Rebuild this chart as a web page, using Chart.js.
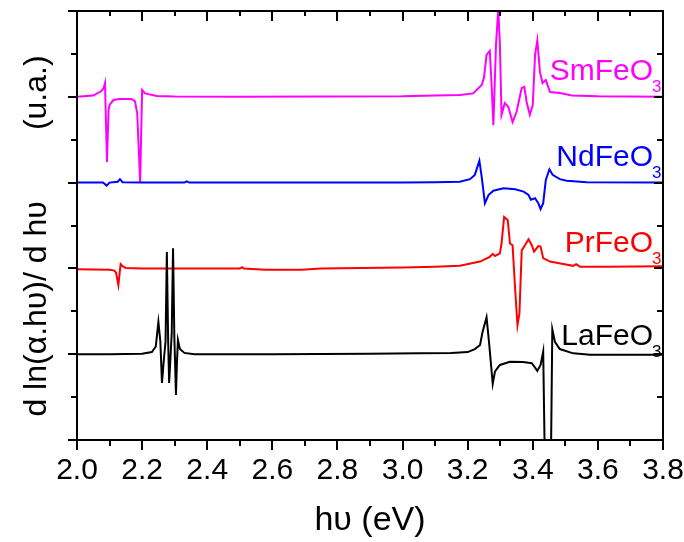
<!DOCTYPE html>
<html>
<head>
<meta charset="utf-8">
<script src="https://cdn.jsdelivr.net/npm/chart.js@4.4.1/dist/chart.umd.min.js"></script>
<style>
html,body{margin:0;padding:0;background:#ffffff;}
#wrap{width:684px;height:542px;position:relative;}
</style>
</head>
<body>
<div id="wrap"><canvas id="c" width="684" height="542"></canvas></div>
<script>
// ---- data (photon energy in eV, derivative in arbitrary units, relative to each curve's baseline) ----
const laX = [2.00, 2.10, 2.20, 2.230, 2.242, 2.250, 2.256, 2.261, 2.266, 2.272, 2.276, 2.280, 2.283, 2.287, 2.291, 2.295, 2.299, 2.304, 2.307, 2.310, 2.316, 2.330, 2.360, 2.60, 2.90, 3.05, 3.15, 3.20, 3.222, 3.238, 3.246, 3.258, 3.266, 3.277, 3.284, 3.299, 3.330, 3.370, 3.397, 3.414, 3.424, 3.432, 3.438, 3.455, 3.460, 3.468, 3.483, 3.524, 3.576, 3.80];
const laY = [0.00, 0.00, 0.01, 0.05, 0.18, 0.75, 0.30, -0.67, -0.20, 0.30, 2.38, 0.30, -0.67, -0.10, 0.50, 2.47, 0.40, -0.95, -0.20, 0.33, 0.12, 0.03, 0.00, 0.00, 0.01, 0.02, 0.03, 0.05, 0.12, 0.215, 0.525, 0.86, 0.25, -0.69, -0.40, -0.25, -0.175, -0.18, -0.21, -0.39, -0.25, 0.06, -3.0, -3.0, 0.58, 0.29, 0.12, 0.02, -0.01, -0.01];

const prX = [2.00, 2.10, 2.115, 2.120, 2.127, 2.134, 2.140, 2.150, 2.20, 2.50, 2.508, 2.512, 2.58, 2.69, 2.75, 3.00, 3.10, 3.176, 3.238, 3.268, 3.277, 3.284, 3.299, 3.304, 3.312, 3.323, 3.330, 3.338, 3.346, 3.353, 3.359, 3.366, 3.376, 3.387, 3.397, 3.404, 3.417, 3.424, 3.432, 3.453, 3.481, 3.524, 3.533, 3.545, 3.627, 3.80];
const prY = [-0.02, -0.03, -0.05, -0.10, -0.39, 0.10, 0.05, 0.01, 0.00, 0.00, 0.03, 0.00, -0.03, -0.03, 0.00, 0.02, 0.04, 0.06, 0.16, 0.27, 0.34, 0.29, 0.35, 0.58, 1.20, 1.13, 0.58, 0.54, -0.51, -1.33, -1.05, 0.42, 0.54, 0.68, 0.54, 0.39, 0.52, 0.51, 0.24, 0.16, 0.12, 0.06, 0.10, 0.04, 0.04, 0.05];

const ndX = [2.00, 2.08, 2.091, 2.10, 2.125, 2.132, 2.14, 2.20, 2.33, 2.337, 2.345, 2.60, 3.00, 3.10, 3.176, 3.207, 3.222, 3.236, 3.243, 3.253, 3.264, 3.279, 3.310, 3.346, 3.372, 3.387, 3.394, 3.407, 3.417, 3.424, 3.432, 3.440, 3.451, 3.461, 3.483, 3.504, 3.565, 3.80];
const ndY = [0.00, 0.00, -0.07, 0.00, 0.02, 0.08, 0.01, 0.00, 0.00, 0.03, 0.00, 0.00, 0.00, 0.01, 0.02, 0.08, 0.18, 0.51, 0.14, -0.48, -0.29, -0.19, -0.13, -0.155, -0.21, -0.29, -0.40, -0.365, -0.48, -0.62, -0.48, 0.06, 0.31, 0.18, 0.08, 0.045, 0.01, 0.00];

const smX = [2.00, 2.05, 2.075, 2.082, 2.086, 2.092, 2.097, 2.100, 2.112, 2.130, 2.168, 2.178, 2.185, 2.194, 2.200, 2.209, 2.245, 2.30, 2.50, 3.00, 3.10, 3.176, 3.217, 3.243, 3.250, 3.258, 3.268, 3.274, 3.279, 3.287, 3.294, 3.299, 3.304, 3.314, 3.325, 3.338, 3.350, 3.366, 3.374, 3.381, 3.391, 3.400, 3.407, 3.414, 3.422, 3.430, 3.440, 3.453, 3.483, 3.520, 3.600, 3.800];
const smY = [0.00, 0.03, 0.135, 0.205, 0.32, -1.52, -0.31, -0.19, -0.075, -0.05, -0.05, -0.10, -0.385, -1.99, 0.16, 0.08, 0.02, 0.005, 0.00, 0.01, 0.03, 0.04, 0.08, 0.275, 0.44, 0.975, 1.07, 0.205, -0.66, 1.21, 2.05, 1.21, -0.42, -0.145, -0.24, -0.59, -0.355, 0.205, 0.23, -0.12, -0.42, -0.19, 0.975, 1.32, 0.58, 0.32, 0.39, 0.11, 0.09, 0.03, 0.01, 0.00];

const seriesNames = ['LaFeO', 'PrFeO', 'NdFeO', 'SmFeO'];
const seriesSub = ['3', '3', '3', '3'];
const seriesOffsets = [2, 4, 6, 8];
const seriesColors = ['#000000', '#ff0000', '#0000ff', '#ff00ff'];

const xTickLabels = ['2.0', '2.2', '2.4', '2.6', '2.8', '3.0', '3.2', '3.4', '3.6', '3.8'];
const xTitle = 'h\u03C5 (eV)';
const yTitle = 'd ln(\u03B1.h\u03C5)/ d h\u03C5        (u.a.)';

const FONT = '"Liberation Sans", Arial, sans-serif';

const allX = [laX, prX, ndX, smX];
const allY = [laY, prY, ndY, smY];

const datasets = allX.map((xs, i) => ({
  label: seriesNames[i] + seriesSub[i],
  data: xs.map((xv, j) => ({x: xv, y: allY[i][j] + seriesOffsets[i]})),
  borderColor: seriesColors[i],
  backgroundColor: seriesColors[i],
  borderWidth: 2,
  pointRadius: 0,
  showLine: true,
  tension: 0,
  fill: false
}));

const framePlugin = {
  id: 'frame',
  afterDraw(chart) {
    const ctx = chart.ctx;
    const a = chart.chartArea;
    const xs = chart.scales.x, ys = chart.scales.y;
    ctx.save();
    ctx.strokeStyle = '#000';
    ctx.lineWidth = 2;
    ctx.lineCap = 'butt';
    ctx.strokeRect(a.left, a.top, a.right - a.left, a.bottom - a.top);
    ctx.beginPath();
    // x ticks: every 0.1 eV, major every 0.2
    for (let k = 0; k <= 18; k++) {
      const v = 2 + k * 0.1;
      const px = Math.round(xs.getPixelForValue(v));
      const major = (k % 2 === 0);
      ctx.moveTo(px, a.bottom); ctx.lineTo(px, a.bottom + (major ? 10 : 6));
      ctx.moveTo(px, a.top); ctx.lineTo(px, a.top + (major ? 10 : 5));
    }
    // y ticks: every unit, major every 2
    for (let k = 0; k <= 10; k++) {
      const py = Math.round(ys.getPixelForValue(k));
      const major = (k % 2 === 0);
      ctx.moveTo(a.left, py); ctx.lineTo(a.left - (major ? 9 : 6), py);
      ctx.moveTo(a.right, py); ctx.lineTo(a.right - (major ? 9 : 6), py);
    }
    ctx.stroke();

    // tick labels
    ctx.fillStyle = '#000';
    ctx.font = '30px ' + FONT;
    ctx.textAlign = 'center';
    ctx.textBaseline = 'alphabetic';
    xTickLabels.forEach(t => {
      ctx.fillText(t, xs.getPixelForValue(parseFloat(t)), 479);
    });

    // axis titles
    ctx.font = '34px ' + FONT;
    ctx.fillText(xTitle, (a.left + a.right) / 2, 530);
    ctx.font = '32px ' + FONT;
    ctx.save();
    ctx.translate(46, 236);
    ctx.rotate(-Math.PI / 2);
    ctx.fillText(yTitle, 0, 0);
    ctx.restore();

    // curve labels
    const labelBase = [345, 251.7, 166, 80];
    seriesNames.forEach((n, i) => {
      ctx.fillStyle = seriesColors[i];
      ctx.font = '30px ' + FONT;
      ctx.textAlign = 'right';
      ctx.fillText(n, 653, labelBase[i]);
      ctx.font = '17px ' + FONT;
      ctx.textAlign = 'left';
      ctx.fillText(seriesSub[i], 652, labelBase[i] + 12);
    });
    ctx.restore();
  }
};

new Chart(document.getElementById('c'), {
  type: 'scatter',
  data: {datasets},
  options: {
    responsive: false,
    animation: false,
    devicePixelRatio: 1,
    layout: {padding: {left: 0, right: 21, top: 11, bottom: 0}},
    plugins: {legend: {display: false}, tooltip: {enabled: false}},
    scales: {
      x: {
        type: 'linear', min: 2.0, max: 3.8,
        grid: {display: false}, border: {display: false},
        ticks: {display: false},
        afterFit: s => { s.height = 102; }
      },
      y: {
        type: 'linear', min: 0, max: 10,
        grid: {display: false}, border: {display: false},
        ticks: {display: false},
        afterFit: s => { s.width = 77; }
      }
    }
  },
  plugins: [framePlugin]
});
</script>
</body>
</html>
